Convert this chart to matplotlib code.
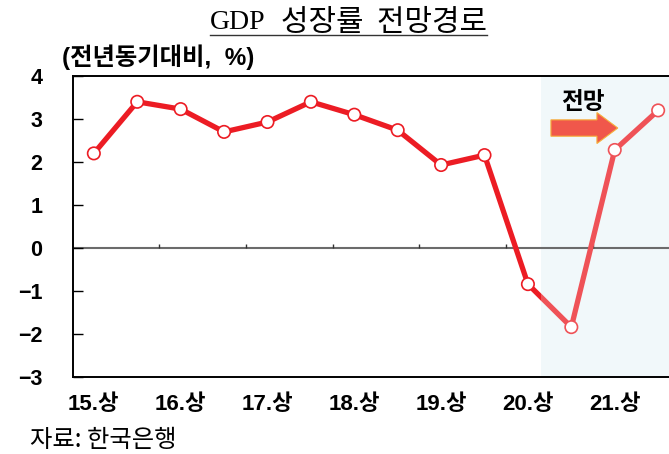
import matplotlib
matplotlib.use("Agg")
import matplotlib.pyplot as plt
from matplotlib.patches import Rectangle, FancyArrow
from matplotlib.lines import Line2D
import numpy as np

# GDP growth (y/y, %) by half-year, 2015 H1 .. 2021 H2
periods = ["15.상", "15.하", "16.상", "16.하", "17.상", "17.하", "18.상",
           "18.하", "19.상", "19.하", "20.상", "20.하", "21.상", "21.하"]
growth = [2.2, 3.4, 3.23, 2.7, 2.93, 3.4, 3.1, 2.74, 1.93, 2.16,
          -0.84, -1.84, 2.28, 3.2]
tick_labels = ["15.상", "16.상", "17.상", "18.상", "19.상", "20.상", "21.상"]
y_ticks = [4, 3, 2, 1, 0, -1, -2, -3]
forecast_start = 10.3  # start of the projection period on the category axis

title_latin = "GDP"
title_korean = "성장률  전망경로"
unit_label = "(전년동기대비,  %)"
forecast_label = "전망"
source = "자료: 한국은행"

DARK_RED = "#EC1C24"
LIGHT_RED = "#EF5257"
SHADE = "#F1F8FA"

KR_BOLD = ["Liberation Sans", "Noto Sans CJK KR"]
KR = ["Noto Sans CJK KR", "DejaVu Sans"]

fig = plt.figure(figsize=(6.69, 4.54), dpi=100)
W, H = 669, 454
ax = fig.add_axes([73 / W, 1 - 377 / H, (W - 73) / W, (377 - 76) / H])

x = np.arange(len(periods))
ax.set_xlim(-0.48, len(periods) - 0.75)
ax.set_ylim(-3, 4)

# forecast shading
ax.axvspan(forecast_start, ax.get_xlim()[1], color=SHADE, zorder=0, lw=0)

# zero line with half-year boundary ticks
ax.axhline(0, color="#6b6b6b", lw=1.5, zorder=1)
boundaries = x[1::2] + 0.5
ax.vlines(boundaries, 0, 0.1, color="#333333", lw=1.0, zorder=1)

# growth line: actual part in dark red, projection in light red
xmin, xmax = ax.get_xlim()
for color, lo, hi in [(DARK_RED, xmin, forecast_start),
                      (LIGHT_RED, forecast_start, xmax)]:
    ln, = ax.plot(x, growth, color=color, lw=3.8, solid_joinstyle="round",
                  solid_capstyle="round", zorder=3)
    clip = Rectangle((lo, -3), hi - lo, 7, transform=ax.transData)
    ln.set_clip_path(clip)

edge_colors = [DARK_RED if xi < forecast_start else LIGHT_RED for xi in x]
ax.scatter(x, growth, s=80, facecolor="white", edgecolors=edge_colors,
           linewidths=1.2, zorder=4, clip_on=False)

# projection arrow and label
ax.add_patch(FancyArrow(10.53, 2.79, 1.54, 0, width=0.38, head_width=0.72,
                        head_length=0.48, length_includes_head=True,
                        facecolor="#F0574B", edgecolor="#F6B03A", lw=0.8,
                        zorder=5))
ax.text(11.27, 3.4, forecast_label, ha="center", va="center", fontsize=17,
        fontweight="bold", family=KR, zorder=5)

# axes styling
for side in ["left", "top", "bottom"]:
    ax.spines[side].set_color("black")
    ax.spines[side].set_linewidth(1.4)
ax.spines["right"].set_visible(False)

ax.set_yticks(y_ticks)
ax.set_yticklabels([("−%d" % -v if v < 0 else str(v)) for v in y_ticks])
ax.tick_params(axis="y", direction="in", length=7, width=1.0, pad=22,
               labelsize=15.5)
ax.set_xticks(x[::2])
ax.set_xticklabels(tick_labels)
ax.tick_params(axis="x", length=0, pad=12, labelsize=16)
for lab in ax.get_xticklabels() + ax.get_yticklabels():
    lab.set_family(KR_BOLD)
    lab.set_fontweight("bold")

# title (serif latin part, korean part), unit and source
base_y = 1 - 29 / H
t1 = fig.text(210 / W, base_y, title_latin, ha="left", va="baseline",
              fontsize=20, family=["Liberation Serif"])
fig.canvas.draw()
b1 = t1.get_window_extent().transformed(fig.transFigure.inverted())
t2 = fig.text(b1.x1 + 15 / W, base_y - 2 / H, title_korean, ha="left",
              va="baseline", fontsize=21.5, fontweight="light", family=KR)
fig.text(62 / W, 1 - 57 / H, unit_label, ha="left", va="center",
         fontsize=17.5, fontweight="bold", family=KR_BOLD)
fig.text(30 / W, 1 - 440 / H, source, ha="left", va="center", fontsize=17.5,
         fontweight="light", family=KR)

# underline under the title
fig.canvas.draw()
b2 = t2.get_window_extent().transformed(fig.transFigure.inverted())
uy = 1 - 35 / H
fig.add_artist(Line2D([b1.x0, b2.x1], [uy, uy], color="#333333", lw=1.0,
                      transform=fig.transFigure))

fig.savefig("out.png", dpi=100)
